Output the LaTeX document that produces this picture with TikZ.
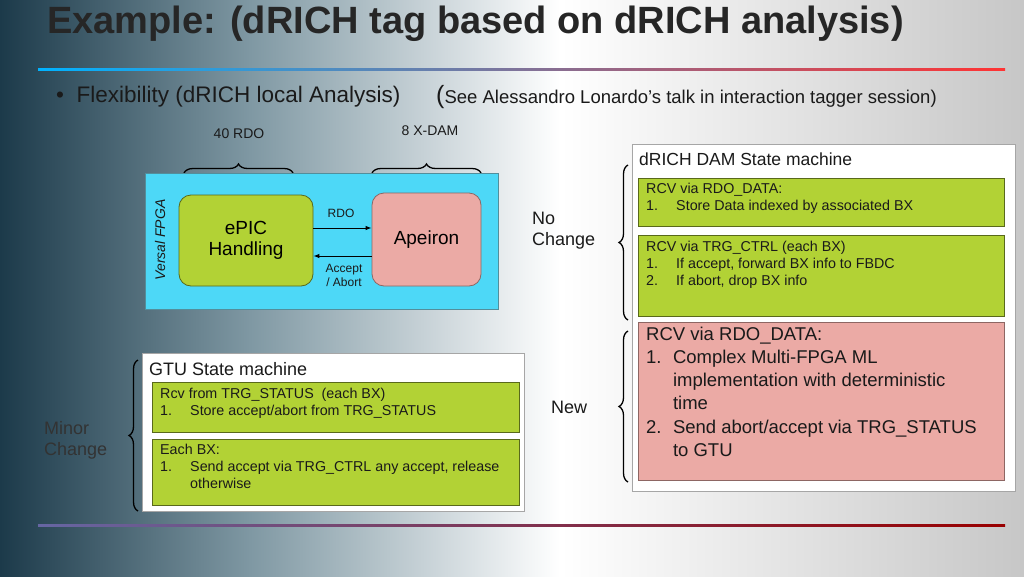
\documentclass[tikz,border=0pt]{standalone}
\usepackage{fontspec}
\setmainfont{Liberation Sans}
\usetikzlibrary{decorations.pathreplacing,arrows.meta}
\definecolor{grn}{HTML}{B2D235}
\definecolor{pnk}{HTML}{EBAAA5}
\definecolor{cyn}{HTML}{4DD8F7}
\definecolor{txt}{HTML}{1A1A1A}
\definecolor{dark}{HTML}{1C3A4A}
\definecolor{mid}{HTML}{7F98A3}
\newcommand{\fs}[1]{\fontsize{#1}{\fpeval{1.17*#1}}\selectfont}
\newcommand{\fsl}[1]{\fontsize{#1}{\fpeval{1.25*#1}}\selectfont}
\newcommand{\itm}[1]{\makebox[2.1em][l]{#1}}
\newcommand{\itn}[1]{\makebox[1.45em][l]{#1}}
\tikzset{
  gbox/.style={draw=black!50!grn, fill=grn, line width=0.8pt},
  pbox/.style={draw=black!40!pnk, fill=pnk, line width=0.8pt},
  wbox/.style={draw=black!35, fill=white, line width=0.8pt},
  lbl/.style={text=txt, inner sep=0pt},
  brc/.style={decorate, decoration={brace, amplitude=9pt}, line width=1.3pt},
}
\begin{document}
\begin{tikzpicture}[x=1pt,y=-1pt]
\useasboundingbox (0,0) rectangle (1024,576);
\shade[left color=dark, right color=mid] (0,0) rectangle (250,576);
\shade[left color=mid, right color=white] (250,0) rectangle (560,576);
\shade[left color=white, right color=black!22] (560,0) rectangle (1024,576);
% title
\node[lbl, anchor=west, font=\fs{38}\bfseries, text=black!85] (title) at (47,24) {Example: (dRICH tag based on dRICH analysis)};
\shade[left color=cyan!70!blue, right color=red!80] (38,68) rectangle (1005,70.5);
\shade[left color=black!60!blue!60, right color=red!60!black] (38,524.5) rectangle (1005,526);
\node[lbl, anchor=west, font=\fs{22.5}] (flex) at (56,97) {\textbullet\ \ Flexibility (dRICH local Analysis)};
\node[lbl, anchor=west, font=\fs{18.5}] (see) at (436,97) {{\fs{25}(}See Alessandro Lonardo’s talk in interaction tagger session)};
% FPGA
\node[lbl, font=\fs{14}] (r40) at (239,134) {40 RDO};
\node[lbl, font=\fs{14}] (xdam) at (430,131) {8 X-DAM};
\draw[brc] (184,173) -- (293,173);
\draw[brc] (372,173) -- (481,173);
\draw[fill=cyn, draw=black!30!cyn!60!gray, line width=1pt] (145,173) rectangle (498,309);
\node[lbl, rotate=90, font=\fs{14}\itshape] (versal) at (160,240) {Versal FPGA};
\node[gbox, rounded corners=12pt, minimum width=134pt, minimum height=91pt, font=\fs{19}, align=center] (epic) at (246,240.5) {ePIC\\[-1pt]Handling};
\node[pbox, rounded corners=12pt, minimum width=109pt, minimum height=93pt, font=\fs{19}] (ape) at (426.5,239.5) {Apeiron};
\draw[-{Latex[length=6pt]}, line width=1pt] (epic.east |- 0,228) -- (ape.west |- 0,228);
\draw[-{Latex[length=6pt]}, line width=1pt] (ape.west |- 0,256) -- (epic.east |- 0,256);
\node[lbl, font=\fs{12}] (lrdo) at (341,213) {RDO};
\node[lbl, font=\fs{12}, align=center] (lacc) at (344,275) {Accept\\/ Abort};
% dRICH DAM
\node[wbox, minimum width=383pt, minimum height=347pt, anchor=north west] (dam) at (632,144) {};
\node[lbl, anchor=west, font=\fs{17.5}] (damt) at (639,159) {dRICH DAM State machine};
\node[gbox, minimum width=366pt, minimum height=48pt, anchor=north west] (g1) at (638,178) {};
\node[lbl, anchor=north west, font=\fs{14.3}, align=left] at (646,183) {RCV via RDO\_DATA:\\\itm{1.}Store Data indexed by associated BX};
\node[gbox, minimum width=366pt, minimum height=81pt, anchor=north west] (g2) at (638,235) {};
\node[lbl, anchor=north west, font=\fs{14.3}, align=left] at (646,241) {RCV via TRG\_CTRL (each BX)\\\itm{1.}If accept, forward BX info to FBDC\\\itm{2.}If abort, drop BX info};
\node[pbox, minimum width=366pt, minimum height=158pt, anchor=north west] (p1) at (638,322) {};
\node[lbl, anchor=north west, font=\fsl{18.5}, align=left] at (646,327) {RCV via RDO\_DATA:\\\itn{1.}Complex Multi-FPGA ML\\\itn{}implementation with deterministic\\\itn{}time\\\itn{2.}Send abort/accept via TRG\_STATUS\\\itn{}to GTU};
\draw[brc] (628,320) -- (628,165);
\draw[brc] (628,482) -- (628,331);
\node[lbl, anchor=west, font=\fs{18}, align=left] (noc) at (532,231) {No\\Change};
\node[lbl, anchor=west, font=\fs{18}] (new) at (551,407) {New};
% GTU
\node[wbox, minimum width=382pt, minimum height=158pt, anchor=north west] (gtu) at (142,353) {};
\node[lbl, anchor=west, font=\fs{18}] (gtut) at (149,369) {GTU State machine};
\node[gbox, minimum width=367pt, minimum height=50pt, anchor=north west] (g3) at (152,382) {};
\node[lbl, anchor=north west, font=\fs{14.3}, align=left] at (160,388) {Rcv from TRG\_STATUS\ \ (each BX)\\\itm{1.}Store accept/abort from TRG\_STATUS};
\node[gbox, minimum width=367pt, minimum height=66pt, anchor=north west] (g4) at (152,439) {};
\node[lbl, anchor=north west, font=\fs{14.3}, align=left] at (160,444) {Each BX:\\\itm{1.}Send accept via TRG\_CTRL any accept, release\\\itm{}otherwise};
\draw[brc] (138,511) -- (138,360);
\node[lbl, anchor=west, font=\fs{18}, align=left, text=black!80] (minor) at (44,440) {Minor\\Change};
\end{tikzpicture}
\end{document}
